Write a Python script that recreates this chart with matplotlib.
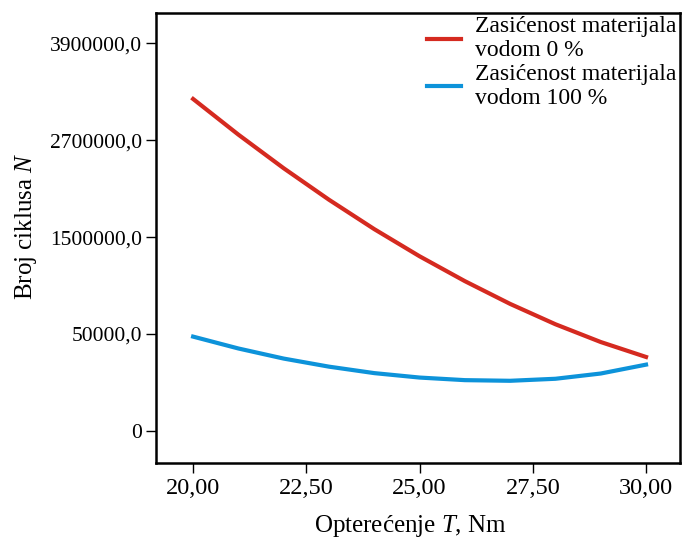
import numpy as np
import matplotlib
matplotlib.use('Agg')
import matplotlib.pyplot as plt

plt.rcParams['font.family'] = ['Liberation Serif', 'DejaVu Serif']
plt.rcParams['mathtext.fontset'] = 'custom'
plt.rcParams['mathtext.rm'] = 'Liberation Serif'
plt.rcParams['mathtext.it'] = 'Liberation Serif:italic'

# load T (Nm)
T = [20, 21, 22, 23, 24, 25, 26, 27, 28, 29, 30]
# number of cycles (axis units as drawn)
N_dry = [3210000, 2768000, 2352000, 1962000, 1598000, 1262000,
         954000, 672000, 420000, 200000, 15000]
N_wet = [267000, 120000, -5000, -105000, -185000, -240000,
         -272000, -280000, -255000, -190000, -80000]

labels = ['Zasićenost materijala\nvodom 0 %', 'Zasićenost materijala\nvodom 100 %']

y_ticks = [-900000, 300000, 1500000, 2700000, 3900000]
y_ticklabels = ['0', '50000,0', '1500000,0', '2700000,0', '3900000,0']
x_ticks = [20, 22.5, 25, 27.5, 30]
x_ticklabels = ['20,00', '22,50', '25,00', '27,50', '30,00']

fig = plt.figure(figsize=(6.85, 5.4), dpi=100)
ax = fig.add_axes([0.2277, 0.1426, 0.765, 0.834])

ax.plot(T, N_dry, color='#d52a20', lw=3, label=labels[0])
ax.plot(T, N_wet, color='#0d93da', lw=3, label=labels[1])

ax.set_xlim(19.18, 30.75)
ax.set_ylim(-1298000, 4279000)
ax.set_xticks(x_ticks)
ax.set_xticklabels(x_ticklabels)
ax.set_yticks(y_ticks)
ax.set_yticklabels(y_ticklabels)
ax.tick_params(direction='out', length=7, width=1, pad=3)
ax.tick_params(axis='x', labelsize=17.5, pad=4)
ax.tick_params(axis='y', labelsize=15.5)

for s in ax.spines.values():
    s.set_linewidth(1.8)

ax.set_xlabel('Opterećenje $T$, Nm', fontsize=18, labelpad=10)
ax.xaxis.label.set_x(0.485)
ax.set_ylabel('Broj ciklusa $N$', fontsize=18)
ax.yaxis.set_label_coords(-0.224, 0.526)

leg = ax.legend(loc='upper right', bbox_to_anchor=(1.0, 1.0), frameon=False,
                fontsize=17, handlelength=1.45, handletextpad=0.6,
                labelspacing=0.1, borderpad=0.1, borderaxespad=0.05)

fig.savefig('out.png', dpi=100)
